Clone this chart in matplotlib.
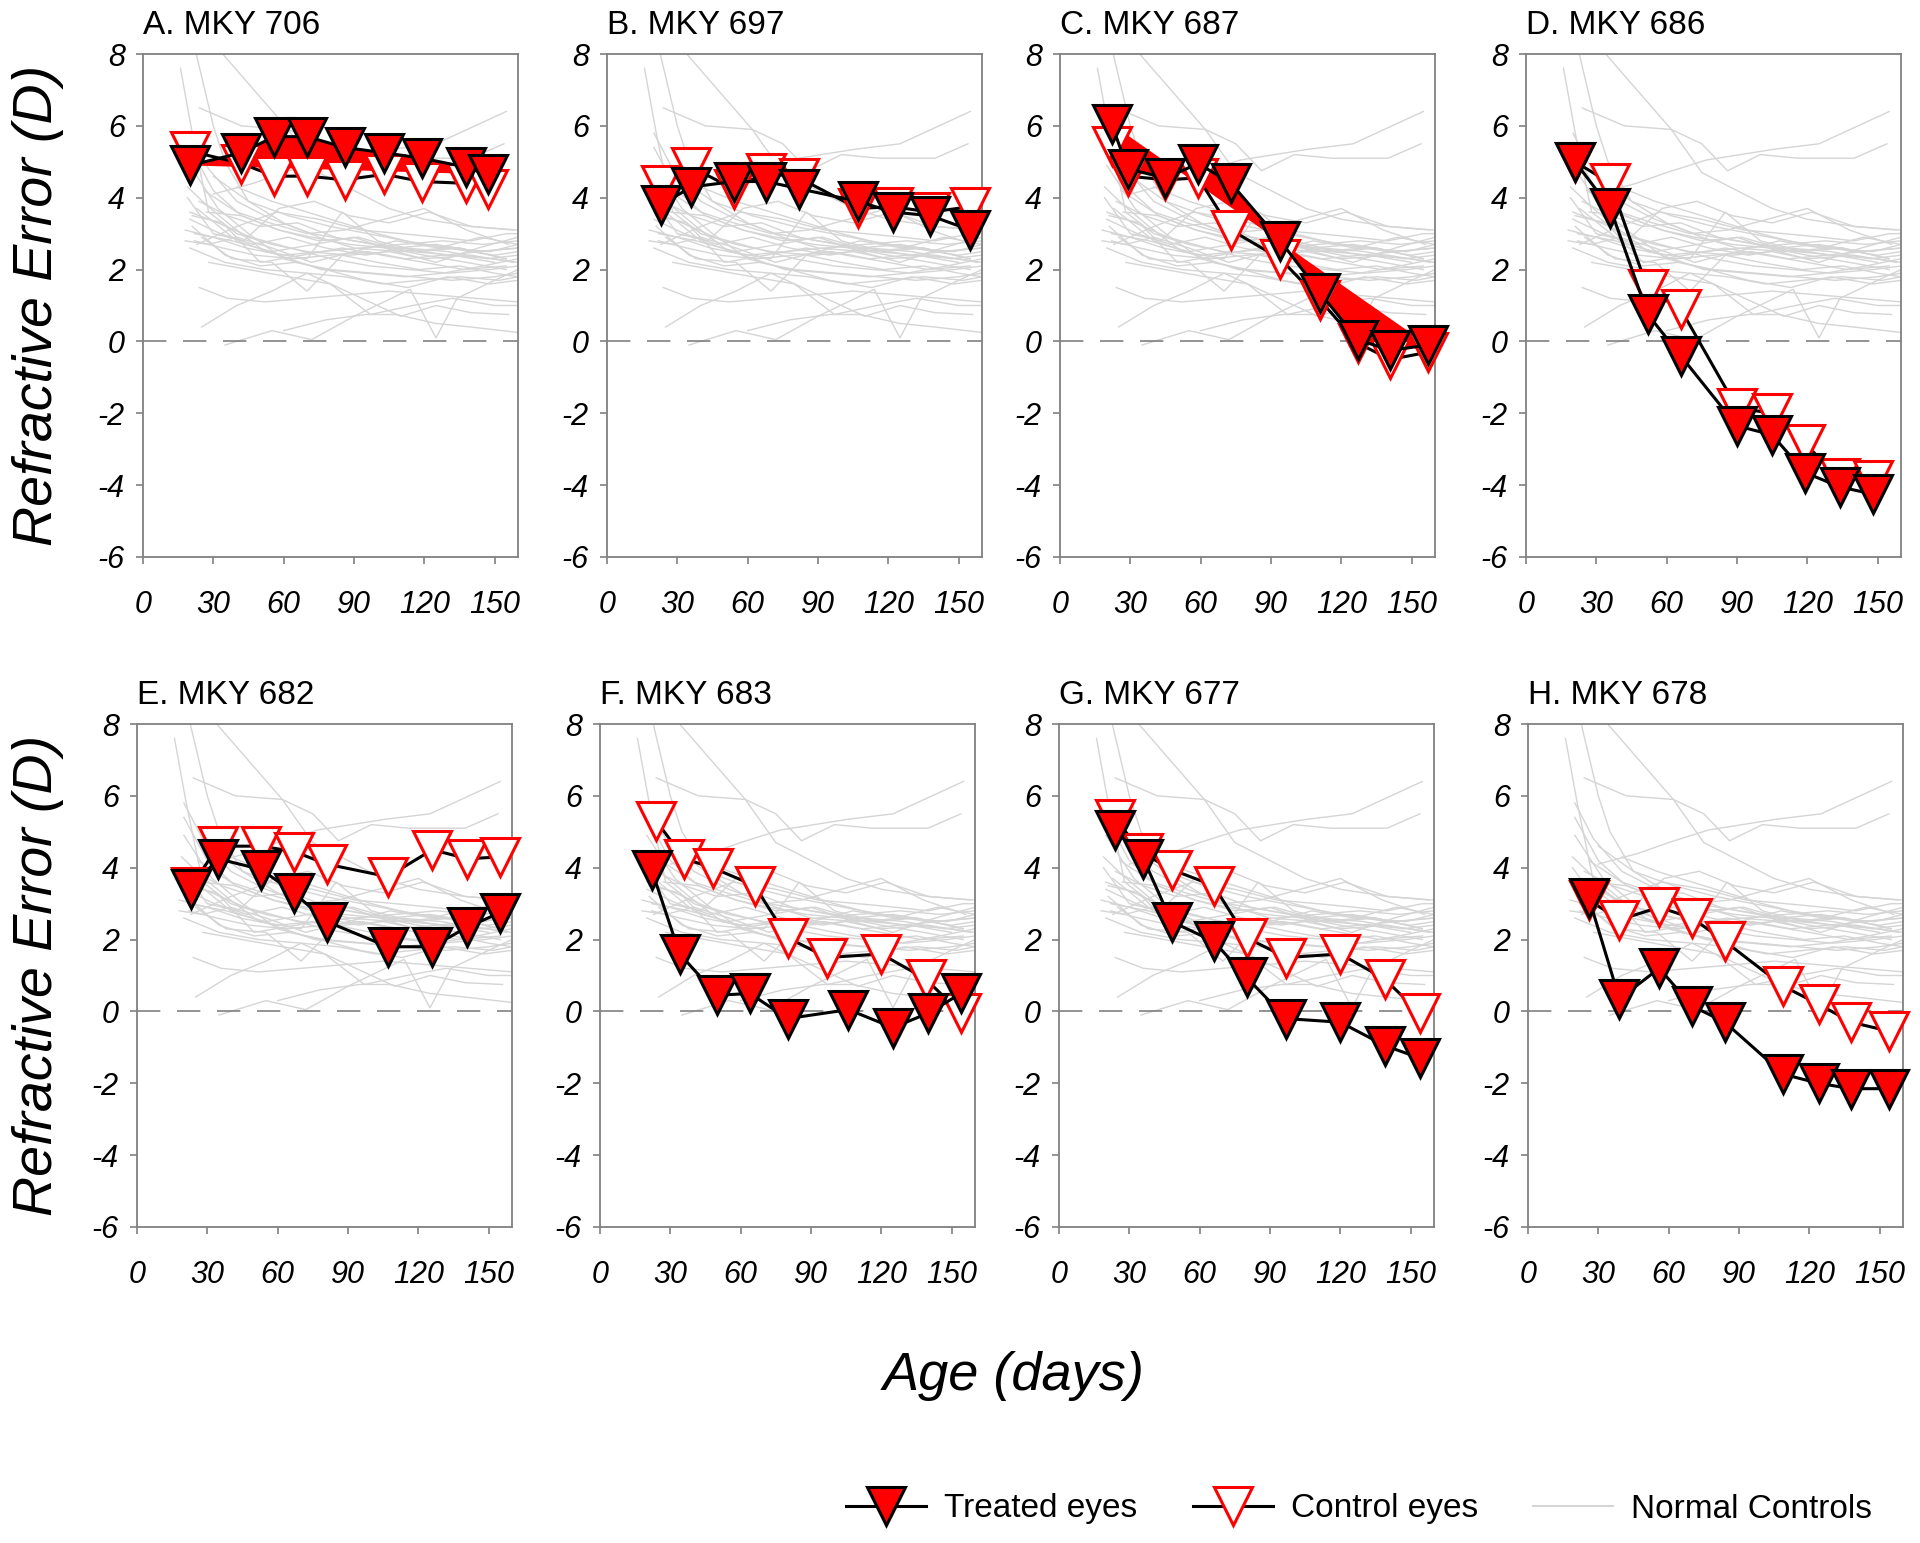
import matplotlib
matplotlib.use('agg')
import matplotlib.pyplot as plt
from matplotlib.lines import Line2D

plt.rcParams['font.family'] = ['Liberation Sans', 'DejaVu Sans']
plt.rcParams['axes.unicode_minus'] = False

# normal control animals (grey background traces, same in every panel)
normal_ages = [
    [16, 21, 28, 40, 55, 70, 88, 105, 120, 140, 158],
    [22, 30, 35, 45, 60, 75, 90, 110, 130, 150, 160],
    [34, 50, 62, 75, 90, 105, 120, 140, 158],
    [24, 42, 62, 75, 86, 100, 116, 140, 154],
    [30, 47, 60, 77, 106, 125, 155],
    [20, 28, 40, 55, 72, 90, 110, 130, 150, 160],
    [20, 30, 42, 58, 75, 92, 108, 125, 142, 160],
    [19, 27, 38, 52, 70, 85, 100, 118, 135, 155],
    [20, 32, 46, 63, 80, 97, 114, 130, 148, 160],
    [18, 30, 44, 60, 76, 93, 110, 128, 145, 160],
    [22, 34, 48, 64, 80, 96, 112, 128, 144, 160],
    [20, 33, 47, 62, 78, 95, 112, 130, 147, 160],
    [24, 36, 50, 66, 82, 98, 115, 132, 150],
    [21, 35, 50, 65, 80, 98, 115, 132, 150, 160],
    [25, 38, 55, 70, 85, 100, 118, 135, 150, 160],
    [19, 30, 43, 58, 73, 88, 105, 122, 140, 160],
    [23, 40, 57, 75, 93, 110, 126, 140, 155, 160],
    [27, 42, 58, 72, 88, 104, 120, 138, 155],
    [24, 36, 52, 70, 88, 105, 124, 142, 160],
    [25, 40, 55, 70, 90, 110, 125, 140, 156],
    [35, 55, 72, 90, 114, 125, 134, 150, 160],
    [60, 78, 95, 108, 125, 140, 160],
    [20, 32, 45, 60, 78, 95, 113, 130, 148, 160],
    [28, 45, 62, 80, 97, 115, 132, 150, 160],
    [18, 28, 40, 55, 72, 90, 108, 126, 144, 160],
    [22, 38, 55, 73, 90, 108, 125, 143, 160],
    [30, 45, 62, 80, 96, 112, 130, 148, 160],
    [21, 34, 50, 68, 85, 102, 120, 137, 155],
    [26, 40, 54, 70, 86, 103, 120, 138, 156],
    [20, 35, 52, 70, 86, 102, 118, 135, 152, 160],
    [23, 40, 58, 76, 95, 112, 128, 145, 160],
    [40, 55, 70, 85, 100, 118, 135, 155],
]
normal_refr = [
    [7.6, 5.8, 3.6, 3.0, 2.7, 2.5, 2.4, 2.5, 2.3, 2.4, 2.2],
    [8.2, 6.0, 5.0, 3.9, 3.3, 2.9, 2.6, 2.5, 2.6, 2.4, 2.5],
    [8.0, 6.8, 5.9, 4.7, 4.2, 3.7, 3.4, 3.2, 3.1],
    [6.5, 6.0, 5.9, 5.5, 4.75, 5.2, 5.1, 5.1, 5.5],
    [4.1, 4.4, 4.7, 5.05, 5.35, 5.5, 6.4],
    [5.8, 4.8, 3.9, 3.4, 3.0, 2.8, 2.6, 2.4, 2.3, 2.2],
    [5.4, 4.2, 3.5, 3.1, 2.8, 2.9, 2.6, 2.7, 2.5, 2.6],
    [4.3, 3.8, 3.2, 2.5, 2.3, 3.6, 2.8, 2.5, 2.6, 2.3],
    [3.6, 3.3, 2.9, 2.6, 2.3, 2.1, 2.0, 1.9, 2.0, 2.1],
    [3.1, 2.9, 2.6, 2.4, 2.5, 2.6, 2.7, 2.8, 2.7, 2.8],
    [2.8, 2.6, 2.4, 2.3, 2.4, 2.5, 2.3, 2.4, 2.5, 2.6],
    [3.4, 3.0, 2.7, 2.9, 2.6, 2.4, 2.6, 2.5, 2.3, 2.4],
    [3.9, 3.5, 3.2, 3.3, 2.9, 2.7, 2.5, 2.4, 2.2],
    [3.2, 2.4, 2.1, 2.2, 2.0, 1.9, 1.8, 1.7, 1.8, 1.9],
    [2.9, 2.3, 2.2, 1.4, 2.4, 2.2, 2.0, 2.1, 1.9, 1.8],
    [4.0, 3.0, 2.8, 3.7, 3.9, 3.5, 3.3, 3.6, 3.2, 3.1],
    [2.7, 3.2, 3.6, 3.4, 3.1, 3.0, 2.9, 2.8, 3.0, 3.0],
    [3.6, 3.5, 3.1, 2.9, 2.7, 2.6, 2.4, 2.2, 2.0],
    [1.5, 1.2, 1.1, 1.2, 1.3, 1.4, 1.3, 1.2, 1.1],
    [0.4, 1.0, 1.4, 1.9, 1.3, 0.7, 1.0, 0.8, 0.75],
    [-0.1, 0.3, 0.05, 0.7, 1.45, 0.1, 1.2, 1.7, 2.0],
    [0.3, 0.6, 0.75, 0.75, 0.5, 0.4, 0.25],
    [4.9, 3.7, 3.0, 2.3, 2.0, 1.7, 1.5, 1.8, 1.6, 1.7],
    [2.2, 2.0, 1.8, 1.6, 0.75, 1.0, 1.2, 1.0, 1.0],
    [2.8, 2.7, 2.9, 2.6, 2.2, 2.5, 2.8, 2.6, 2.9, 2.7],
    [3.0, 2.8, 2.5, 2.7, 2.9, 2.5, 2.2, 2.6, 2.9],
    [4.6, 3.9, 3.5, 3.2, 3.0, 2.8, 2.6, 2.5, 2.7],
    [3.5, 3.3, 2.2, 2.4, 2.6, 2.4, 2.2, 2.0, 2.1],
    [4.2, 3.6, 3.3, 3.0, 3.1, 3.4, 3.7, 3.1, 2.7],
    [2.6, 2.2, 2.0, 1.9, 1.8, 1.6, 1.7, 1.8, 1.7, 1.8],
    [3.7, 2.8, 2.4, 2.0, 1.9, 1.8, 1.9, 2.1, 2.3],
    [4.3, 3.9, 3.6, 3.3, 3.0, 2.7, 2.6, 2.3],
]

titles = ['A. MKY 706', 'B. MKY 697', 'C. MKY 687', 'D. MKY 686',
          'E. MKY 682', 'F. MKY 683', 'G. MKY 677', 'H. MKY 678']

treated_days = [
    [20, 42, 56, 70, 86, 103, 119, 138, 147],
    [23, 36, 54, 68, 82, 107, 122, 138, 155],
    [22, 29, 45, 59, 73, 94, 111, 127, 141, 157],
    [21, 36, 52, 66, 90, 105, 119, 134, 148],
    [23, 34.5, 53, 67, 81, 107, 126, 141, 155],
    [22, 34, 50, 64, 80, 106, 125, 140, 154],
    [24, 36, 48, 66, 80, 97, 120, 139, 154],
    [26, 39, 56, 70, 84, 109, 124, 138, 154],
]
treated_re = [
    [4.9, 5.25, 5.7, 5.7, 5.4, 5.25, 5.1, 4.85, 4.65],
    [3.8, 4.3, 4.45, 4.45, 4.25, 3.9, 3.6, 3.5, 3.1],
    [6.05, 4.8, 4.55, 4.95, 4.4, 2.8, 1.35, 0.05, -0.25, -0.1],
    [5.0, 3.7, 0.75, -0.4, -2.35, -2.6, -3.65, -4.05, -4.25],
    [3.4, 4.25, 3.95, 3.3, 2.5, 1.8, 1.8, 2.35, 2.75],
    [3.95, 1.6, 0.45, 0.5, -0.2, 0.05, -0.45, -0.05, 0.5],
    [5.05, 4.25, 2.5, 1.95, 0.95, -0.2, -0.3, -0.95, -1.3],
    [3.15, 0.35, 1.2, 0.15, -0.3, -1.75, -2.0, -2.15, -2.15],
]
control_days = [
    [20, 42, 56, 70, 86, 103, 119, 138, 147],
    [23, 36, 54, 68, 82, 107, 122, 138, 155],
    [22, 29, 45, 59, 73, 94, 111, 127, 141, 157],
    [21, 36, 52, 66, 90, 105, 119, 134, 148],
    [23, 34.5, 53, 67, 81, 107, 126, 141, 155],
    [24, 36, 48, 66, 80, 97, 120, 139, 154],
    [24, 36, 48, 66, 80, 97, 120, 139, 154],
    [26, 39, 56, 70, 84, 109, 124, 138, 154],
]
control_re = [
    [5.3, 4.95, 4.6, 4.6, 4.5, 4.65, 4.45, 4.4, 4.25],
    [4.35, 4.85, 4.25, 4.7, 4.55, 3.7, 3.75, 3.6, 3.75],
    [5.45, 4.6, 4.5, 4.55, 3.1, 2.3, 1.15, -0.05, -0.5, -0.3],
    [5.0, 4.4, 1.45, 0.9, -1.85, -2.0, -2.85, -3.8, -3.85],
    [3.45, 4.6, 4.6, 4.45, 4.1, 3.75, 4.5, 4.25, 4.3],
    [5.3, 4.25, 4.0, 3.5, 2.05, 1.5, 1.6, 0.9, -0.05],
    [5.35, 4.4, 3.95, 3.5, 2.05, 1.5, 1.6, 0.9, -0.05],
    [3.1, 2.55, 2.9, 2.6, 1.95, 0.7, 0.2, -0.3, -0.55],
]
# panels where the treated-eye curve was drawn as a filled area
filled_panels = [0, 2]

W, H = 1920, 1543
fig = plt.figure(figsize=(W / 100, H / 100), dpi=100)

lefts = [[143, 607, 1060, 1526], [137, 600, 1059, 1528]]
tops = [54, 724]
aw, ah = 375, 503
grey = '#808080'
ms = 28

for i in range(8):
    r, c = divmod(i, 4)
    ax = fig.add_axes([lefts[r][c] / W, 1 - (tops[r] + ah) / H, aw / W, ah / H])
    for xs, ys in zip(normal_ages, normal_refr):
        ax.plot(xs, ys, color='#d5d5d5', lw=1.0, zorder=1)
    ax.axhline(0, color=grey, lw=1.2, dashes=(14, 10), zorder=1.5)
    if i in filled_panels:
        ax.fill(treated_days[i], treated_re[i], color='red', lw=0, zorder=2)
    ax.plot(control_days[i], control_re[i], color='black', lw=2.2,
            marker='v', ms=ms, mfc='white', mec='red', mew=2.2,
            zorder=3, clip_on=False)
    ax.plot(treated_days[i], treated_re[i], color='black', lw=2.2,
            marker='v', ms=ms, mfc='red', mec='black', mew=2.2,
            zorder=4, clip_on=False)
    ax.set_xlim(0, 160)
    ax.set_ylim(-6, 8)
    ax.set_xticks(range(0, 151, 30))
    ax.set_yticks(range(-6, 9, 2))
    for s in ax.spines.values():
        s.set_color(grey)
        s.set_linewidth(1.3)
    ax.tick_params(axis='both', direction='out', length=5, width=1.2,
                   color=grey, labelsize=22)
    ax.tick_params(axis='x', pad=19)
    ax.tick_params(axis='y', pad=8)
    for lab in ax.get_xticklabels() + ax.get_yticklabels():
        lab.set_fontstyle('italic')
    ax.text(0, 1.04, titles[i], transform=ax.transAxes, ha='left',
            va='baseline', fontsize=24)

for r in range(2):
    yc = 1 - (tops[r] + ah / 2) / H
    fig.text(38 / W, yc, 'Refractive Error (D)', rotation=90, ha='center',
             va='center', fontsize=40, style='italic')

fig.text(1014 / W, 1 - 1376 / H, 'Age (days)', ha='center', va='center',
         fontsize=39, style='italic')

handles = [
    Line2D([], [], color='black', lw=2.2, marker='v', ms=ms, mfc='red',
           mec='black', mew=2.2),
    Line2D([], [], color='black', lw=2.2, marker='v', ms=ms, mfc='white',
           mec='red', mew=2.2),
    Line2D([], [], color='#d5d5d5', lw=1.5),
]
fig.legend(handles, ['Treated eyes', 'Control eyes', 'Normal Controls'],
           loc='center left', bbox_to_anchor=(846 / W, 1 - 1509 / H),
           ncol=3, frameon=False, handlelength=2.4, handletextpad=0.55,
           columnspacing=1.65, borderaxespad=0, borderpad=0,
           prop={'size': 24})

fig.savefig('out.png', dpi=100)
